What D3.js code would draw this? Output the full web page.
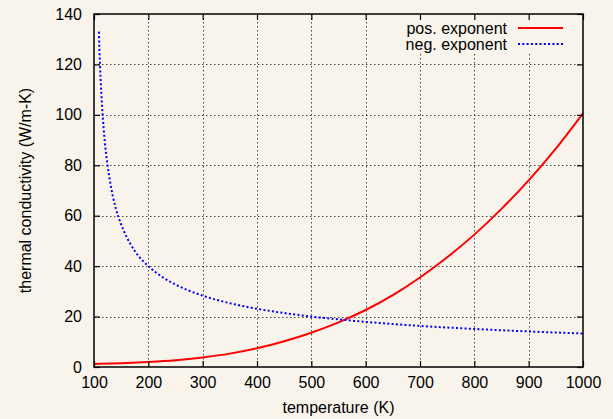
<!DOCTYPE html>
<html><head><meta charset="utf-8">
<script src="https://cdn.jsdelivr.net/npm/d3@7"></script>
<style>
html,body{margin:0;padding:0;background:#f8f4ec;}
text{font-family:"Liberation Sans",Arial,Helvetica,sans-serif;fill:#000;}
</style></head>
<body>
<svg id="c" width="613" height="419"></svg>
<script>
// data
const posT   = [100,150,200,250,300,350,400,450,500,550,600,650,700,750,800,850,900,950,1000];
const posK   = [1.2,1.5,2.0,2.7,3.8,5.3,7.4,10.2,13.6,17.7,22.6,28.5,35.5,43.5,52.5,62.7,74.0,86.6,100.6];
const negT   = [109,110,112,115,120,125,130,140,150,160,175,200,225,250,300,350,400,450,500,550,600,700,800,900,1000];
const negK   = [133,126,115,103,89,80,73,63,56.5,51.6,46,40,35.8,32.7,28.3,25.3,23.1,21.4,20,18.9,17.9,16.3,15.1,14.1,13.3];
const xTicks = [100,200,300,400,500,600,700,800,900,1000];
const yTicks = [0,20,40,60,80,100,120,140];
const seriesNames = ["pos. exponent","neg. exponent"];
const seriesColors = ["#ff0000","#0000ff"];

const svg = d3.select("#c");
svg.append("rect").attr("width",613).attr("height",419).attr("fill","#f8f4ec");
const L=94,R=583,T=14,B=367;
const x = d3.scaleLinear().domain([100,1000]).range([L,R]);
const y = d3.scaleLinear().domain([0,140]).range([B,T]);

// grid
const grid = svg.append("g").attr("stroke","#444").attr("stroke-width",1).attr("stroke-dasharray","1.5,2.5");
xTicks.slice(1,-1).forEach(t=>{
  grid.append("line").attr("x1",Math.round(x(t))+0.5).attr("x2",Math.round(x(t))+0.5).attr("y1",T).attr("y2",B);
});
yTicks.slice(1,-1).forEach(t=>{
  grid.append("line").attr("x1",L).attr("x2",R).attr("y1",Math.round(y(t))+0.5).attr("y2",Math.round(y(t))+0.5);
});
// key background (opaque)
svg.append("rect").attr("x",396).attr("y",T+1).attr("width",R-396-1).attr("height",38).attr("fill","#f8f4ec");

// curves
const line = d3.line().x(d=>x(d[0])).y(d=>y(d[1])).curve(d3.curveMonotoneX);
svg.append("path").datum(posT.map((t,i)=>[t,posK[i]])).attr("d",line)
  .attr("fill","none").attr("stroke",seriesColors[0]).attr("stroke-width",2);
svg.append("path").datum(negT.map((t,i)=>[t,negK[i]])).attr("d",line)
  .attr("fill","none").attr("stroke",seriesColors[1]).attr("stroke-width",2).attr("stroke-dasharray","2,2.3");

// axes
function style(g){
  g.select(".domain").remove();
  g.selectAll(".tick line").attr("stroke","#000").attr("stroke-width",1.2);
  g.selectAll("text").attr("font-size","16px").attr("font-family","Liberation Sans, Arial, sans-serif");
}
svg.append("g").attr("transform",`translate(0,${B})`)
  .call(d3.axisBottom(x).tickValues(xTicks).tickSize(-6).tickPadding(10).tickFormat(d3.format("d"))).call(style);
svg.append("g").attr("transform",`translate(0,${T})`)
  .call(d3.axisTop(x).tickValues(xTicks).tickSize(-6).tickFormat("")).call(style);
svg.append("g").attr("transform",`translate(${L},0)`)
  .call(d3.axisLeft(y).tickValues(yTicks).tickSize(-6).tickPadding(12).tickFormat(d3.format("d"))).call(style);
svg.append("g").attr("transform",`translate(${R},0)`)
  .call(d3.axisRight(y).tickValues(yTicks).tickSize(-6).tickFormat("")).call(style);

// border
svg.append("rect").attr("x",L).attr("y",T).attr("width",R-L).attr("height",B-T)
  .attr("fill","none").attr("stroke","#000").attr("stroke-width",1.5);

// labels
svg.append("text").attr("x",(L+R)/2).attr("y",413).attr("text-anchor","middle").attr("font-size","16px").text("temperature (K)");
svg.append("text").attr("transform",`translate(31,${(T+B)/2}) rotate(-90)`).attr("text-anchor","middle").attr("font-size","16px").text("thermal conductivity (W/m-K)");

// legend
const ky=[28,44];
seriesNames.forEach((n,i)=>{
  svg.append("text").attr("x",507).attr("y",ky[i]+5.5).attr("text-anchor","end").attr("font-size","16px").text(n);
  const l = svg.append("line").attr("x1",518).attr("x2",563).attr("y1",ky[i]).attr("y2",ky[i])
    .attr("stroke",seriesColors[i]).attr("stroke-width",2);
  if(i===1) l.attr("stroke-dasharray","2,2.3");
});
</script>
</body></html>
